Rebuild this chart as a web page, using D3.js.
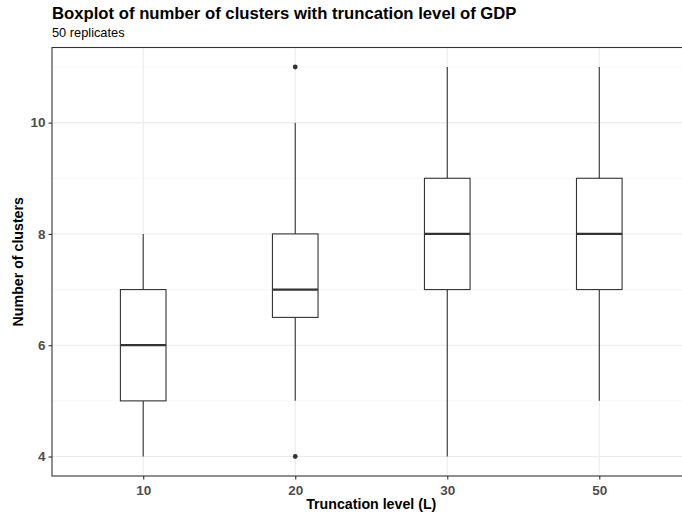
<!DOCTYPE html>
<html>
<head>
<meta charset="utf-8">
<script src="https://cdn.jsdelivr.net/npm/d3@7"></script>
<style>
  html, body { margin: 0; padding: 0; background: #fff; }
  svg { display: block; font-family: "Liberation Sans", Arial, sans-serif; }
</style>
</head>
<body>
<svg id="chart" width="682" height="517"></svg>
<script>
// Truncation levels and the five-number summaries of cluster counts
const categories = ["10", "20", "30", "50"];
const lowerWhisker = [4, 5, 4, 5];
const q1 = [5, 6.5, 7, 7];
const median = [6, 7, 8, 8];
const q3 = [7, 8, 9, 9];
const upperWhisker = [8, 10, 11, 11];
const outliers = [[], [4, 11], [], []];
const yTicks = [4, 6, 8, 10];
const yMinorTicks = [5, 7, 9, 11];

const svg = d3.select("#chart");
const margin = { left: 52, right: -8.5, top: 47.5, bottom: 41 };
const W = 682, H = 517;
const x0 = margin.left, x1 = W - margin.right;
const y0 = margin.top, y1 = H - margin.bottom;

// discrete x scale with 0.6-step expansion on each side
const x = d3.scalePoint().domain(categories).range([x0, x1]).padding(0.6);
const step = x.step();
const y = d3.scaleLinear().domain([3.65, 11.35]).range([y1, y0]);

const ink = "#333333";

// panel grid
const grid = svg.append("g");
grid.selectAll("line.minor").data(yMinorTicks).join("line")
  .attr("x1", x0).attr("x2", x1)
  .attr("y1", d => y(d)).attr("y2", d => y(d))
  .attr("stroke", "#F2F2F2").attr("stroke-width", 0.6);
grid.selectAll("line.major").data(yTicks).join("line")
  .attr("x1", x0).attr("x2", x1)
  .attr("y1", d => y(d)).attr("y2", d => y(d))
  .attr("stroke", "#EBEBEB").attr("stroke-width", 1.1);
grid.selectAll("line.vmajor").data(categories).join("line")
  .attr("x1", d => x(d)).attr("x2", d => x(d))
  .attr("y1", y0).attr("y2", y1)
  .attr("stroke", "#EBEBEB").attr("stroke-width", 1.1);

// boxplots
const bw = step * 0.3;
const boxes = svg.append("g");
categories.forEach((c, i) => {
  const cx = x(c);
  const g = boxes.append("g");
  g.append("line").attr("x1", cx).attr("x2", cx)
    .attr("y1", y(q3[i])).attr("y2", y(upperWhisker[i]))
    .attr("stroke", ink).attr("stroke-width", 1.1);
  g.append("line").attr("x1", cx).attr("x2", cx)
    .attr("y1", y(q1[i])).attr("y2", y(lowerWhisker[i]))
    .attr("stroke", ink).attr("stroke-width", 1.1);
  g.append("rect")
    .attr("x", cx - bw / 2).attr("width", bw)
    .attr("y", y(q3[i])).attr("height", y(q1[i]) - y(q3[i]))
    .attr("fill", "#fff").attr("stroke", ink).attr("stroke-width", 1.1);
  g.append("line").attr("x1", cx - bw / 2).attr("x2", cx + bw / 2)
    .attr("y1", y(median[i])).attr("y2", y(median[i]))
    .attr("stroke", ink).attr("stroke-width", 2.2);
  g.selectAll("circle").data(outliers[i]).join("circle")
    .attr("cx", cx).attr("cy", d => y(d)).attr("r", 2.4)
    .attr("fill", ink);
});

// panel border
svg.append("rect")
  .attr("x", x0).attr("y", y0).attr("width", x1 - x0).attr("height", y1 - y0)
  .attr("fill", "none").attr("stroke", ink).attr("stroke-width", 1.1);

// axes
const xAxis = svg.append("g").attr("transform", `translate(0,${y1})`)
  .call(d3.axisBottom(x).tickSize(3.5).tickPadding(3));
const yAxis = svg.append("g").attr("transform", `translate(${x0},0)`)
  .call(d3.axisLeft(y).tickValues(yTicks).tickSize(3.5).tickPadding(3));
[xAxis, yAxis].forEach(a => {
  a.select(".domain").remove();
  a.selectAll(".tick line").attr("stroke", ink).attr("stroke-width", 1.1);
  a.selectAll(".tick text")
    .attr("fill", "#4D4D4D").attr("font-size", 13.5).attr("font-weight", "bold")
    .attr("font-family", "Liberation Sans, Arial, sans-serif");
});
xAxis.selectAll(".tick text").attr("dy", "0.9em");

// titles
svg.append("text").attr("x", x0).attr("y", 19)
  .attr("font-size", 16.7).attr("font-weight", "bold").attr("fill", "#000")
  .text("Boxplot of number of clusters with truncation level of GDP");
svg.append("text").attr("x", x0).attr("y", 37.3)
  .attr("font-size", 12.8).attr("fill", "#000")
  .text("50 replicates");
svg.append("text").attr("x", (x0 + x1) / 2).attr("y", 509)
  .attr("text-anchor", "middle")
  .attr("font-size", 14.2).attr("font-weight", "bold").attr("fill", "#000")
  .text("Truncation level (L)");
svg.append("text")
  .attr("transform", `translate(22.5,${(y0 + y1) / 2}) rotate(-90)`)
  .attr("text-anchor", "middle")
  .attr("font-size", 14.2).attr("font-weight", "bold").attr("fill", "#000")
  .text("Number of clusters");
</script>
</body>
</html>
